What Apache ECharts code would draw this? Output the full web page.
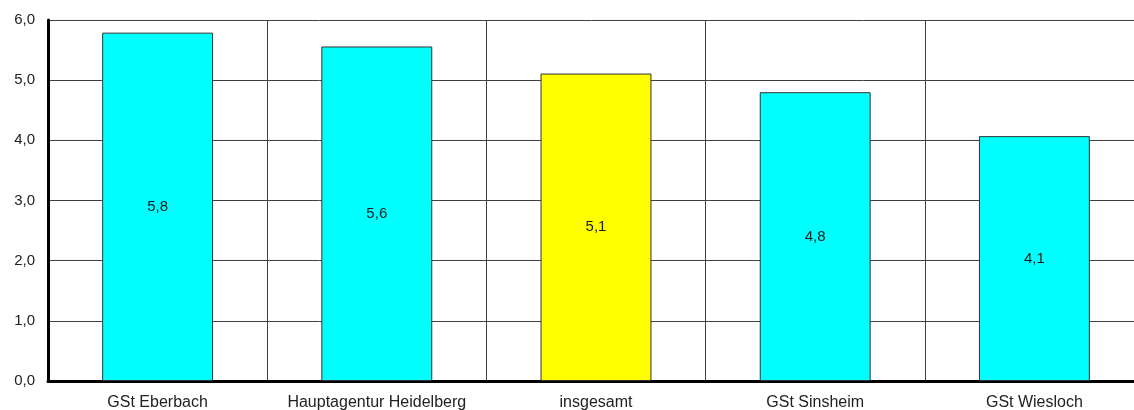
<!DOCTYPE html>
<html>
<head>
<meta charset="utf-8">
<script src="https://cdn.jsdelivr.net/npm/echarts@6/dist/echarts.min.js"></script>
<style>
html,body{margin:0;padding:0;background:#fff;overflow:hidden;}
#c{width:1134px;height:410px;}
</style>
</head>
<body>
<div id="c"></div>
<script>
var categories = ['GSt Eberbach', 'Hauptagentur Heidelberg', 'insgesamt', 'GSt Sinsheim', 'GSt Wiesloch'];
var values = [5.79, 5.56, 5.11, 4.80, 4.07];
var barColors = ['#00FFFF', '#00FFFF', '#FFFF00', '#00FFFF', '#00FFFF'];

function fmt(v){ return Number(v).toFixed(1).replace('.', ','); }

var chart = echarts.init(document.getElementById('c'), null, {renderer:'canvas'});
chart.setOption({
  animation: false,
  backgroundColor: '#ffffff',
  grid: {left: 48, width: 1096, top: 20, height: 361, containLabel: false, outerBoundsMode: 'none'},
  xAxis: {
    type: 'category',
    data: categories,
    boundaryGap: true,
    axisLine: {show: true, lineStyle: {color: '#000', width: 3}},
    axisTick: {show: false},
    axisLabel: {color: '#222', fontFamily: 'Liberation Sans, Arial, sans-serif', fontSize: 16, margin: 14, interval: 0},
    splitLine: {show: true, interval: 0, lineStyle: {color: '#404040', width: 1}}
  },
  yAxis: {
    type: 'value',
    min: 0, max: 6, interval: 1,
    axisLine: {show: true, lineStyle: {color: '#000', width: 3}},
    axisTick: {show: false},
    axisLabel: {color: '#222', fontFamily: 'Liberation Sans, Arial, sans-serif', fontSize: 15, margin: 13, formatter: fmt},
    splitLine: {show: true, lineStyle: {color: '#404040', width: 1}}
  },
  series: [{
    type: 'bar',
    data: values.map(function(v, i){ return {value: v, itemStyle: {color: barColors[i]}}; }),
    barWidth: '50.6%',
    itemStyle: {borderColor: '#333', borderWidth: 1},
    label: {
      show: true, position: 'inside', color: '#1a1a1a',
      fontFamily: 'Liberation Sans, Arial, sans-serif', fontSize: 15,
      formatter: function(p){ return fmt(p.value); }
    }
  }]
});
</script>
</body>
</html>
